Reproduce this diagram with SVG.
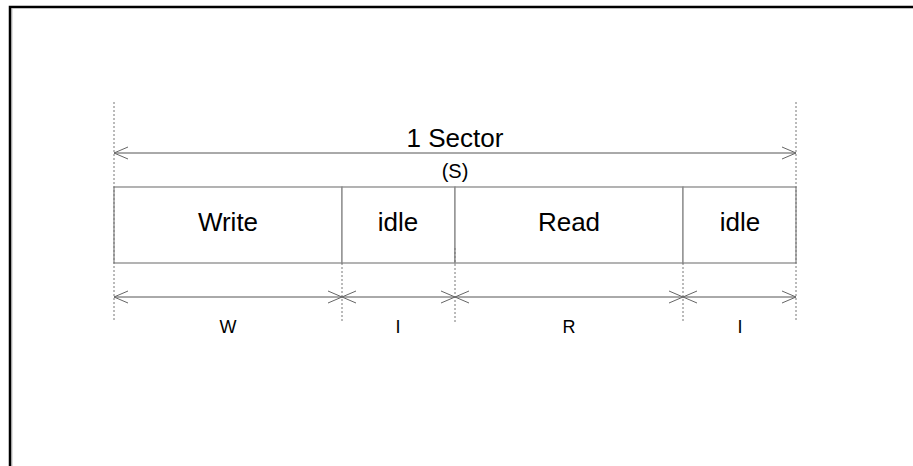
<svg xmlns="http://www.w3.org/2000/svg" width="913" height="466" viewBox="0 0 913 466">
<defs>
<marker id="ah" viewBox="0 0 16 14" refX="15" refY="7" markerWidth="16" markerHeight="14" markerUnits="userSpaceOnUse" orient="auto-start-reverse">
<path d="M1,1 L15,7 L1,13" fill="none" stroke="#666" stroke-width="1"/>
</marker>
<style>
.lbl{font-family:"Liberation Sans",Arial,sans-serif;fill:#000;text-anchor:middle}
.big{font-size:26px}
.mid{font-size:20px}
.sm{font-size:18px}
.box{fill:#fff;stroke:#8a8a8a;stroke-width:1.3}
.dot{stroke:#777;stroke-width:1;stroke-dasharray:2,2;fill:none}
.dim{stroke:#555;stroke-width:1;fill:none;marker-start:url(#ah);marker-end:url(#ah)}
</style>
</defs>
<rect x="0" y="0" width="913" height="466" fill="#fff"/>
<rect x="10" y="7" width="920" height="480" fill="none" stroke="#000" stroke-width="2.5"/>
<line x1="11.8" y1="9" x2="11.8" y2="466" stroke="#999" stroke-width="1"/>
<g id="segments">
<g id="write"><rect class="box" x="114" y="187" width="228" height="76"/><text class="lbl big" x="228" y="231">Write</text></g>
<g id="idle1"><rect class="box" x="342" y="187" width="113" height="76"/><text class="lbl big" x="398" y="231">idle</text></g>
<g id="read"><rect class="box" x="455" y="187" width="228" height="76"/><text class="lbl big" x="569" y="231">Read</text></g>
<g id="idle2"><rect class="box" x="683" y="187" width="113" height="76"/><text class="lbl big" x="740" y="231">idle</text></g>
</g>
<g id="connectors">
<line class="dot" x1="114" y1="102" x2="114" y2="322"/>
<line class="dot" x1="796" y1="102" x2="796" y2="322"/>
<line class="dot" x1="342" y1="263" x2="342" y2="322"/>
<line class="dot" x1="455" y1="248" x2="455" y2="322"/>
<line class="dot" x1="683" y1="263" x2="683" y2="322"/>
<line class="dim" x1="114" y1="153" x2="796" y2="153"/>
<line class="dim" x1="114" y1="297" x2="342" y2="297"/>
<line class="dim" x1="342" y1="297" x2="455" y2="297"/>
<line class="dim" x1="455" y1="297" x2="683" y2="297"/>
<line class="dim" x1="683" y1="297" x2="796" y2="297"/>
</g>
<g id="labels">
<text class="lbl big" x="455" y="147">1 Sector</text>
<text class="lbl mid" x="455" y="178">(S)</text>
<text class="lbl sm" x="228" y="333">W</text>
<text class="lbl sm" x="398" y="333">I</text>
<text class="lbl sm" x="569" y="333">R</text>
<text class="lbl sm" x="740" y="333">I</text>
</g>
</svg>
